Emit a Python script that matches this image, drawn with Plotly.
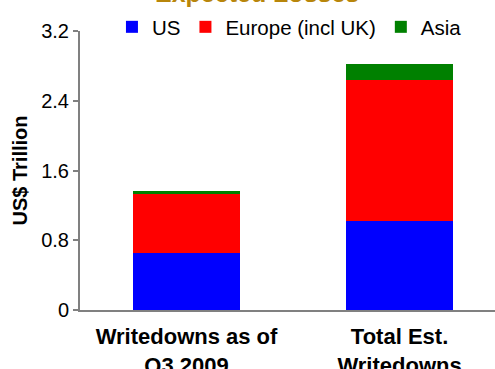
import plotly.graph_objects as go

categories = ["Writedowns as of<br>Q3 2009", "Total Est.<br>Writedowns"]
us = [0.65, 1.02]
europe = [0.69, 1.62]
asia = [0.02, 0.18]
ytick_vals = [0, 0.8, 1.6, 2.4, 3.2]
ytick_text = ["0", "0.8", "1.6", "2.4", "3.2"]

FONT = "Liberation Sans, Arial, sans-serif"
AXIS_GREY = "#808080"

fig = go.Figure()
fig.add_trace(go.Bar(name="US", x=categories, y=us, marker_color="#0000FF", width=0.5))
fig.add_trace(go.Bar(name="Europe (incl UK)", x=categories, y=europe, marker_color="#FF0000", width=0.5))
fig.add_trace(go.Bar(name="Asia", x=categories, y=asia, marker_color="#008000", width=0.5))

fig.update_traces(marker_line_width=0)

fig.update_layout(
    barmode="stack",
    width=495,
    height=369,
    margin=dict(l=80, r=0, t=31, b=59, autoexpand=False),
    paper_bgcolor="white",
    plot_bgcolor="white",
    font=dict(family=FONT, size=20, color="black"),
    showlegend=True,
    legend=dict(
        orientation="h",
        x=0.077, y=1.086,
        xanchor="left", yanchor="top",
        font=dict(size=20.5, color="black"),
        bgcolor="rgba(0,0,0,0)",
        traceorder="normal",
    ),
    annotations=[
        dict(
            text="<b>Expected Losses</b>",
            xref="paper", yref="paper",
            x=0.427, y=1.0,
            xanchor="center", yanchor="bottom",
            yshift=22,
            showarrow=False,
            font=dict(size=25, color="#B8860B", family=FONT),
        )
    ],
)

fig.update_xaxes(
    type="category",
    range=[-0.5, 1.448],
    showline=True, linecolor=AXIS_GREY, linewidth=2,
    ticks="", showgrid=False, zeroline=False,
    ticklabelstandoff=6,
    tickfont=dict(size=22, family=FONT, color="black", weight="bold"),
)

fig.update_yaxes(
    range=[0, 3.2],
    tickvals=ytick_vals, ticktext=ytick_text,
    showline=True, linecolor=AXIS_GREY, linewidth=2,
    ticks="outside", ticklen=5, tickcolor=AXIS_GREY, tickwidth=1.5,
    showgrid=False, zeroline=False,
    tickfont=dict(size=20, family=FONT, color="black"),
    title=dict(text="<b>US$ Trillion</b>", font=dict(size=20, family=FONT, color="black"), standoff=8),
)

fig.write_html("out.html")
